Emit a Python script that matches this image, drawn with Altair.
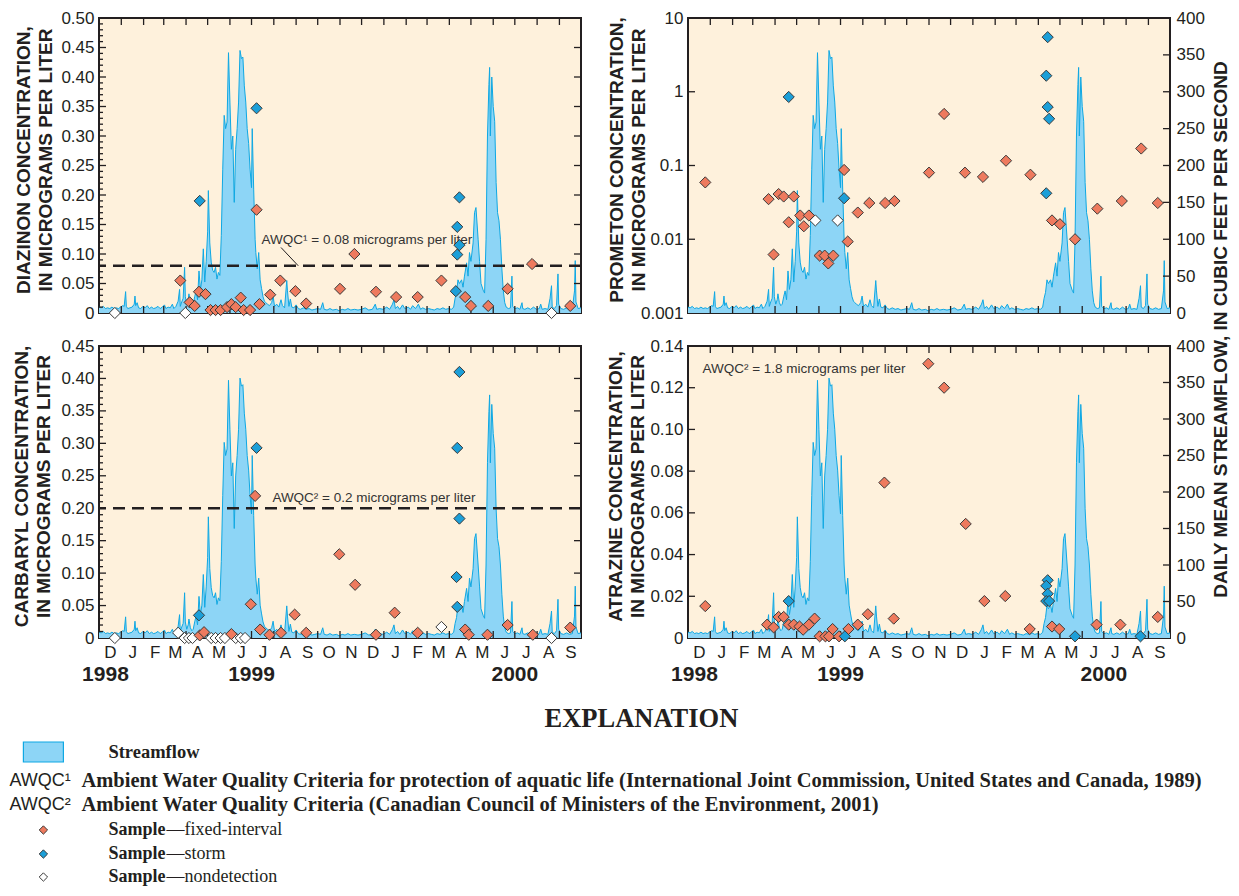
import altair as alt
import pandas as pd

FONT = "Liberation Sans"
SERIF = "Liberation Serif"
INK = "#231F20"
CREAM = "#FEF1DC"
FLOW_FILL = "#8DD5F6"
FLOW_LINE = "#0FA8E3"
FIXED = "#EE7A5E"
STORM = "#1C9FD8"
W = 482
H_TOP = 295
H_BOT = 292
START = pd.Timestamp("1998-12-01")

# ---------------- streamflow (days since 1998-12-01, cubic feet per second)
flow_day = [0, 3, 6, 9, 12, 15, 18, 21, 24, 27, 30, 33, 35, 37, 38, 40, 43, 46, 49, 50, 51, 53, 55, 58, 61, 64,
            67, 70, 73, 76, 79, 82, 85, 88, 91, 93, 96, 99, 102, 104, 107, 110, 112, 113, 115, 117, 119, 120, 122,
            124, 125, 127, 129, 131, 133, 135, 137, 139, 141, 143, 145, 147, 149, 151, 152, 154, 156, 158, 160, 162,
            164, 166, 168, 170, 172, 174, 176, 178, 180, 182, 184, 186, 188, 190, 192, 194, 196, 198, 200, 202, 204,
            206, 208, 210, 212, 213, 215, 217, 218, 220, 222, 224, 226, 228, 230, 232, 234, 237, 240, 242, 244, 247,
            250, 253, 255, 258, 261, 262, 264, 266, 268, 271, 274, 277, 280, 284, 288, 292, 296, 300, 304, 308, 311,
            313, 317, 321, 325, 330, 334, 338, 342, 346, 350, 355, 360, 365, 370, 375, 380, 384, 386, 390, 395, 400,
            404, 408, 410, 412, 415, 418, 422, 425, 430, 433, 436, 440, 444, 447, 450, 454, 458, 462, 466, 470, 474,
            478, 482, 486, 490, 493, 495, 497, 499, 501, 504, 506, 508, 511, 513, 515, 517, 520, 522, 524, 527, 529,
            531, 534, 536, 538, 540, 542, 543, 544, 546, 548, 550, 552, 554, 556, 558, 560, 562, 564, 566, 569, 572,
            574, 575, 578, 582, 585, 588, 589, 592, 596, 600, 604, 608, 612, 614, 616, 620, 624, 627, 629, 630, 633,
            636, 638, 639, 642, 646, 650, 654, 658, 661, 662, 663, 666, 670]
flow_cfs = [8, 7, 9, 6, 7, 6, 8, 6, 7, 6, 8, 10, 9, 29, 9, 6, 7, 8, 12, 23, 10, 14, 7, 6, 9, 7,
            10, 6, 8, 6, 7, 9, 6, 8, 11, 6, 8, 7, 12, 6, 9, 16, 32, 9, 15, 20, 62, 22, 12,
            18, 26, 14, 10, 12, 22, 30, 18, 57, 32, 45, 87, 42, 70, 110, 166, 95, 69, 58, 55, 62,
            46, 55, 51, 105, 195, 268, 250, 259, 353, 286, 222, 240, 150, 222, 250, 286, 356, 345, 347, 308, 286,
            250, 230, 195, 170, 250, 168, 100, 82, 60, 82, 45, 33, 22, 16, 14, 12, 10, 14, 23, 9, 12,
            8, 18, 10, 7, 44, 30, 9, 19, 8, 7, 11, 6, 5, 7, 5, 6, 4, 5, 6, 5, 14,
            5, 4, 6, 4, 5, 3, 5, 4, 6, 4, 5, 4, 5, 7, 4, 5, 12, 5, 6, 5, 8,
            5, 12, 18, 6, 9, 5, 11, 6, 8, 5, 10, 6, 12, 5, 7, 5, 6, 5, 4, 6, 5,
            7, 5, 6, 5, 8, 20, 28, 45, 40, 45, 35, 50, 68, 50, 82, 70, 95, 136, 143, 100, 70,
            40, 31, 27, 100, 240, 310, 333, 240, 320, 280, 260, 177, 136, 125, 100, 60, 30, 14, 8, 6, 7,
            50, 9, 6, 7, 5, 14, 6, 5, 7, 5, 8, 5, 6, 12, 5, 6, 5, 20, 37, 8, 6,
            10, 53, 12, 6, 5, 7, 5, 6, 30, 71, 15, 6, 7]

# ---------------- Diazinon (micrograms per liter)
diaz_fixed_day = [113, 126, 133, 139, 148, 155, 162, 169, 178, 184, 190, 197, 201, 210, 219, 223, 238, 252, 273,
                  288, 335, 355, 385, 413, 443, 476, 509, 517, 541, 568, 602, 655]
diaz_fixed_val = [0.055, 0.018, 0.012, 0.036, 0.032, 0.005, 0.005, 0.005, 0.010, 0.015, 0.010, 0.026, 0.005,
                  0.005, 0.175, 0.015, 0.031, 0.055, 0.037, 0.016, 0.041, 0.100, 0.036, 0.027, 0.027, 0.055,
                  0.027, 0.012, 0.012, 0.041, 0.083, 0.012]
diaz_storm_day = [140, 219, 501, 498, 501, 498, 496]
diaz_storm_val = [0.19, 0.347, 0.196, 0.146, 0.115, 0.099, 0.037]
diaz_nd_day = [22, 120, 629]
diaz_nd_val = [0, 0, 0]

# ---------------- Prometon
prom_fixed_day = [24, 112, 119, 126, 133, 140, 147, 156, 161, 168, 183, 190, 195, 202, 217, 222, 236, 252, 274,
                  287, 335, 356, 385, 410, 442, 476, 506, 517, 538, 569, 603, 630, 653]
prom_fixed_val = [0.059, 0.035, 0.0062, 0.041, 0.038, 0.017, 0.038, 0.021, 0.015, 0.021, 0.006, 0.006, 0.0047,
                  0.006, 0.087, 0.0093, 0.023, 0.031, 0.031, 0.033, 0.080, 0.50, 0.080, 0.070, 0.116, 0.075,
                  0.018, 0.016, 0.010, 0.026, 0.033, 0.17, 0.031]
prom_storm_day = [140, 217, 500, 498, 500, 502, 498]
prom_storm_val = [0.85, 0.036, 5.5, 1.65, 0.62, 0.43, 0.042]
prom_nd_day = [177, 208]
prom_nd_val = [0.018, 0.018]

# ---------------- Carbaryl
carb_fixed_day = [140, 146, 184, 217, 211, 224, 237, 253, 272, 288, 334, 356, 385, 411, 443, 509, 514, 540, 568,
                  603, 655]
carb_fixed_val = [0.004, 0.009, 0.006, 0.219, 0.052, 0.013, 0.005, 0.008, 0.036, 0.008, 0.129, 0.082, 0.005,
                  0.039, 0.008, 0.013, 0.005, 0.005, 0.020, 0.005, 0.016]
carb_storm_day = [139, 219, 501, 498, 501, 497, 498]
carb_storm_val = [0.035, 0.293, 0.41, 0.293, 0.184, 0.094, 0.048]
carb_nd_day = [22, 110, 119, 125, 130, 156, 162, 169, 175, 190, 197, 203, 476, 629]
carb_nd_val = [0, 0.008, 0, 0, 0, 0, 0, 0, 0, 0, 0, 0, 0.017, 0]

# ---------------- Atrazine
atra_fixed_day = [24, 110, 119, 126, 133, 140, 147, 155, 160, 168, 176, 183, 191, 196, 201, 210, 223, 236, 250,
                  273, 286, 334, 356, 386, 412, 441, 475, 506, 516, 568, 601, 653]
atra_fixed_val = [0.0153, 0.0064, 0.0051, 0.0101, 0.0101, 0.0064, 0.0064, 0.0055, 0.0040, 0.0064, 0.0093,
                  0.0008, 0.0008, 0.0008, 0.0043, 0.0008, 0.0043, 0.0064, 0.0114, 0.0745, 0.0093, 0.1315,
                  0.120, 0.0547, 0.0177, 0.0201, 0.0043, 0.0055, 0.0043, 0.0064, 0.0064, 0.0101]
atra_storm_day = [140, 218, 500, 498, 500, 498, 502, 538, 629]
atra_storm_val = [0.0177, 0.0008, 0.0277, 0.025, 0.0212, 0.0177, 0.0177, 0.0008, 0.0008]
atra_nd_day = []
atra_nd_val = []

year_labels = ["1998", "1999", "2000"]
year_label_day = [9, 212, 578]


def to_dates(days):
    return [START + pd.Timedelta(days=float(d)) for d in days]


def samples(fd, fv, sd, sv, nd, nv):
    rows = []
    for typ, d, v in (("nondetection", nd, nv), ("fixed-interval", fd, fv), ("storm", sd, sv)):
        rows += [{"date": t, "conc": c, "type": typ} for t, c in zip(to_dates(d), v)]
    return pd.DataFrame(rows)


flow_df = pd.DataFrame({"date": to_dates(flow_day), "flow": flow_cfs})
boundaries = pd.DataFrame({"date": pd.date_range("1999-01-01", "2000-09-01", freq="MS")})
month_vals = [alt.DateTime(year=int(d.year), month=int(d.month), date=1)
              for d in pd.date_range("1998-12-01", "2000-09-01", freq="MS")]
years_df = pd.DataFrame({"date": to_dates(year_label_day), "label": year_labels})

x_scale = alt.Scale(domain=[alt.DateTime(year=1998, month=12, date=1),
                            alt.DateTime(year=2000, month=10, date=1)])
flow_scale = alt.Scale(domain=[0, 400])
type_scale = alt.Scale(domain=["nondetection", "fixed-interval", "storm"], range=["#FFFFFF", FIXED, STORM])


def x_enc(labels):
    if labels:
        axis = alt.Axis(values=month_vals, labelExpr="substring(timeFormat(datum.value, '%b'), 0, 1)",
                        labelOffset=11, labelPadding=6, labelFontSize=17, labelFont=FONT, labelColor=INK,
                        labelFlush=False, labelOverlap=False, labelBound=False, ticks=False, domain=False,
                        grid=False, title=None)
        return alt.X("date:T", scale=x_scale, axis=axis)
    return alt.X("date:T", scale=x_scale, axis=None)


# ---------------- explanation block (drawn in the lower-left panel's frame)
LX0, LY0 = 97.6, 344


def txt(s, px, py, size, weight="normal", font=SERIF, align="left", **kw):
    return alt.Chart(pd.DataFrame({"t": [s]})).mark_text(
        align=align, baseline="middle", font=font, fontSize=size, fontWeight=weight, color=INK, **kw).encode(
        x=alt.value(px - LX0), y=alt.value(py - LY0), text="t:N")


def diamond(color, px, py):
    return alt.Chart(pd.DataFrame({"t": [0]})).mark_point(
        shape="diamond", filled=True, fill=color, stroke="#3A3A3A", strokeWidth=1, size=70, opacity=1).encode(
        x=alt.value(px - LX0), y=alt.value(py - LY0))


def legend_layers():
    swatch = alt.Chart(pd.DataFrame({"t": [0]})).mark_rect(
        fill=FLOW_FILL, stroke=FLOW_LINE, strokeWidth=1.2).encode(
        x=alt.value(22 - LX0), x2=alt.value(62 - LX0), y=alt.value(740 - LY0), y2=alt.value(760 - LY0))
    return [
        txt("EXPLANATION", 640, 717, 26.5, "bold", align="center"),
        swatch,
        txt("Streamflow", 107, 750, 18.5, "bold"),
        txt("AWQC¹", 8, 779, 18, font=FONT),
        txt("Ambient Water Quality Criteria for protection of aquatic life (International Joint Commission, "
            "United States and Canada, 1989)", 80, 779, 20.5, "bold"),
        txt("AWQC²", 8, 803, 18, font=FONT),
        txt("Ambient Water Quality Criteria (Canadian Council of Ministers of the Environment, 2001)",
            80, 803, 20.5, "bold"),
        diamond(FIXED, 42, 828), txt("Sample", 107, 828, 18, "bold"), txt("—fixed-interval", 165, 828, 18),
        diamond(STORM, 42, 852), txt("Sample", 107, 852, 18, "bold"), txt("—storm", 165, 852, 18),
        diamond("#FFFFFF", 42, 875), txt("Sample", 107, 875, 18, "bold"), txt("—nondetection", 165, 875, 18),
    ]


def panel(H, sdf, cscale, cvals, clabel, ctitle, ctitle_x, xlabels, right_flow, minor=None,
          awqc=None, note=None, leader=None, flow_title=None, extra=None):
    X = x_enc(xlabels)
    if right_flow:
        fa = dict(orient="right", values=list(range(0, 401, 50)), format="d", labelFontSize=17, labelFont=FONT,
                  labelColor=INK, labelPadding=6, ticks=False, domain=False, grid=False)
        if flow_title:
            fa.update(title=flow_title, titleFont=FONT, titleFontSize=19, titleFontWeight="bold", titleColor=INK,
                      titleAngle=270, titleX=50, titleY=311, titleAlign="center", titleBaseline="middle")
        else:
            fa.update(title=None)
        faxis = alt.Axis(**fa)
    else:
        faxis = None
    layers = [alt.Chart(flow_df).mark_area(color=FLOW_FILL, opacity=1, interpolate="linear",
                                           line=alt.OverlayMarkDef(color=FLOW_LINE, strokeWidth=1))
              .encode(x=X, y=alt.Y("flow:Q", scale=flow_scale, axis=faxis))]
    tick = dict(color=INK, strokeWidth=1.3)
    layers.append(alt.Chart(boundaries).mark_rule(**tick).encode(x=X, y=alt.value(0), y2=alt.value(7)))
    layers.append(alt.Chart(boundaries).mark_rule(**tick).encode(x=X, y=alt.value(H - 7), y2=alt.value(H)))
    inner = pd.DataFrame({"v": cvals[1:-1]})
    layers.append(alt.Chart(inner).mark_rule(**tick).encode(
        y=alt.Y("v:Q", scale=cscale, axis=None), x=alt.value(0), x2=alt.value(7)))
    if minor:
        layers.append(alt.Chart(pd.DataFrame({"v": minor})).mark_rule(**tick).encode(
            y=alt.Y("v:Q", scale=cscale, axis=None), x=alt.value(0), x2=alt.value(4)))
    if right_flow:
        layers.append(alt.Chart(pd.DataFrame({"v": list(range(50, 400, 50))})).mark_rule(**tick).encode(
            y=alt.Y("v:Q", scale=flow_scale, axis=None), x=alt.value(W - 7), x2=alt.value(W)))
    else:
        layers.append(alt.Chart(inner).mark_rule(**tick).encode(
            y=alt.Y("v:Q", scale=cscale, axis=None), x=alt.value(W - 7), x2=alt.value(W)))
    if awqc is not None:
        layers.append(alt.Chart(pd.DataFrame({"v": [awqc]})).mark_rule(
            color=INK, strokeWidth=2.6, strokeDash=[12, 7]).encode(y=alt.Y("v:Q", scale=cscale, axis=None)))
    if leader is not None:
        ldf = pd.DataFrame({"date": to_dates([leader[0]]), "date2": to_dates([leader[1]]),
                            "v": [leader[2]], "v2": [leader[3]]})
        layers.append(alt.Chart(ldf).mark_rule(color=INK, strokeWidth=1).encode(
            x=X, x2="date2:T", y=alt.Y("v:Q", scale=cscale, axis=None), y2="v2:Q"))
    if note is not None:
        ndf = pd.DataFrame({"date": to_dates([note[0]]), "v": [note[1]], "t": [note[2]]})
        layers.append(alt.Chart(ndf).mark_text(align="left", baseline="middle", font=FONT, fontSize=13.5,
                                               color="#333333").encode(
            x=X, y=alt.Y("v:Q", scale=cscale, axis=None), text="t:N"))
    caxis = alt.Axis(orient="left", values=cvals, labelExpr=clabel, labelFontSize=17, labelFont=FONT,
                     labelColor=INK, labelPadding=5, ticks=False, domain=False, grid=False,
                     title=ctitle, titleFont=FONT, titleFontSize=19, titleFontWeight="bold", titleColor=INK,
                     titleAngle=270, titleX=ctitle_x, titleY=H / 2 - 6, titleAlign="center",
                     titleBaseline="middle", titleLineHeight=22)
    layers.append(alt.Chart(sdf).mark_point(shape="diamond", filled=True, size=125, opacity=1,
                                            stroke="#3A3A3A", strokeWidth=1).encode(
        x=X, y=alt.Y("conc:Q", scale=cscale, axis=caxis),
        fill=alt.Fill("type:N", scale=type_scale, legend=None)))
    if xlabels:
        layers.append(alt.Chart(years_df).mark_text(font=FONT, fontSize=21, fontWeight="bold", color=INK,
                                                    align="center", baseline="middle").encode(
            x=X, y=alt.value(H + 37), text="label:N"))
    if extra:
        layers += extra
    return alt.layer(*layers).resolve_scale(y="independent").properties(
        width=W, height=H, view=alt.ViewBackground(fill=CREAM, stroke=INK, strokeWidth=2))


lin_label = "datum.value == 0 ? '0' : format(datum.value, '.2f')"
tl = panel(H_TOP, samples(diaz_fixed_day, diaz_fixed_val, diaz_storm_day, diaz_storm_val, diaz_nd_day, diaz_nd_val),
           alt.Scale(domain=[0, 0.5]), [round(i * 0.05, 2) for i in range(11)], lin_label,
           ["DIAZINON CONCENTRATION,", "IN MICROGRAMS PER LITER"], -76, False, False,
           minor=[round(i * 0.01, 2) for i in range(1, 50) if i % 5],
           awqc=0.08, note=(226, 0.123, "AWQC¹ = 0.08 micrograms per liter"), leader=(253, 277, 0.111, 0.08))
tr = panel(H_TOP, samples(prom_fixed_day, prom_fixed_val, prom_storm_day, prom_storm_val, prom_nd_day, prom_nd_val),
           alt.Scale(type="log", domain=[0.001, 10]), [0.001, 0.01, 0.1, 1, 10], "format(datum.value, '~g')",
           ["PROMETON CONCENTRATION,", "IN MICROGRAMS PER LITER"], -72, False, True,
           flow_title="DAILY MEAN STREAMFLOW, IN CUBIC FEET PER SECOND")
bl = panel(H_BOT, samples(carb_fixed_day, carb_fixed_val, carb_storm_day, carb_storm_val, carb_nd_day, carb_nd_val),
           alt.Scale(domain=[0, 0.45]), [round(i * 0.05, 2) for i in range(10)], lin_label,
           ["CARBARYL CONCENTRATION,", "IN MICROGRAMS PER LITER"], -78, True, False,
           minor=[round(i * 0.01, 2) for i in range(1, 45) if i % 5],
           awqc=0.2, note=(241, 0.216, "AWQC² = 0.2 micrograms per liter"), extra=legend_layers())
br = panel(H_BOT, samples(atra_fixed_day, atra_fixed_val, atra_storm_day, atra_storm_val, atra_nd_day, atra_nd_val),
           alt.Scale(domain=[0, 0.14]), [round(i * 0.02, 2) for i in range(8)], lin_label,
           ["ATRAZINE CONCENTRATION,", "IN MICROGRAMS PER LITER"], -73, True, True,
           note=(20, 0.1288, "AWQC² = 1.8 micrograms per liter"))

chart = alt.concat(tl, tr, bl, br, columns=2, spacing={"row": 33, "column": 107}, bounds="flush").properties(
    padding={"left": 0, "right": 0, "top": 0, "bottom": 0}, background="white"
).configure(font=FONT)

chart.save("out.html", embed_options={"renderer": "svg", "actions": False})
